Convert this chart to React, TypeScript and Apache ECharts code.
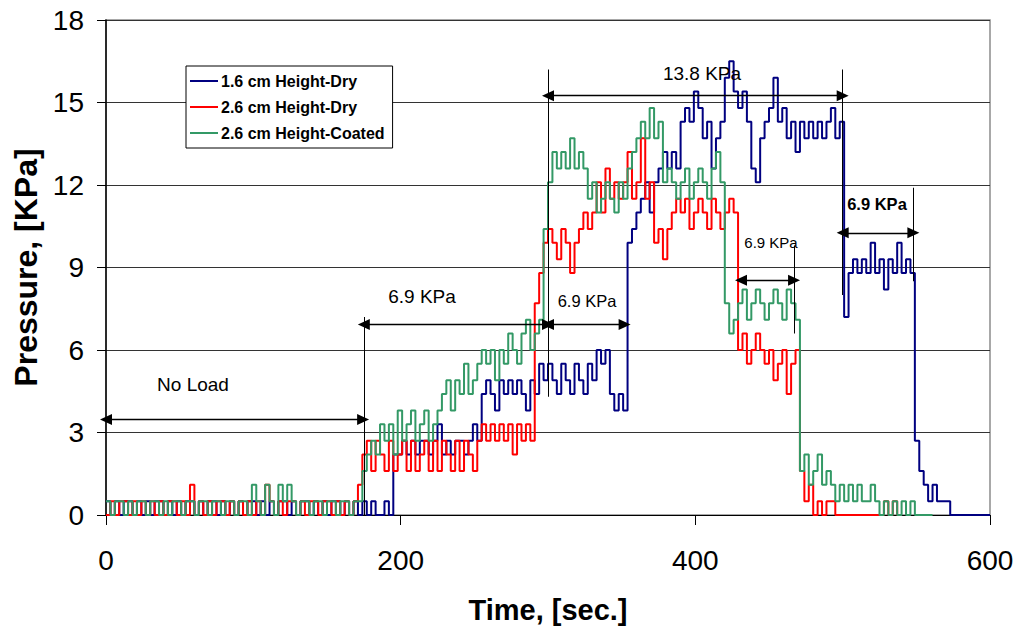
import React, { useEffect, useRef } from "react";
import * as echarts from "echarts";

// Sampling interval of the recorded data, seconds
const SAMPLE_STEP = 3;

const seriesNames = ["1.6 cm Height-Dry", "2.6 cm Height-Dry", "2.6 cm Height-Coated"];
const seriesColors = ["#000080", "#FF0000", "#339966"];

// Pressure [KPa] sampled every 3 s, starting at t = 0
const blueValues = [
  0.5, 0, 0.5, 0, 0.5, 0.5, 0, 0.5, 0, 0.5,
  0, 0.5, 0.5, 0, 0.5, 0, 0.5, 0, 0.5, 0.5,
  0, 0.5, 0, 0.5, 0.5, 0, 0.5, 0, 0.5, 0,
  0.5, 0, 0.5, 0.5, 0, 0.5, 0, 0.5, 0, 0.5,
  0.5, 0, 0.5, 0, 0.5, 0.5, 0, 0.5, 0, 0.5,
  0, 0.5, 0.5, 0, 0.5, 0, 0.5, 0, 0.5, 0,
  0.5, 0, 0, 0.5, 0, 2.2, 2.2, 2.7, 2.2, 2.7,
  2.2, 2.7, 2.7, 2.2, 2.7, 3.3, 2.2, 2.7, 2.2, 2.7,
  2.7, 2.2, 2.7, 3.3, 2.7, 4.4, 4.9, 4.4, 3.8, 4.9,
  4.4, 4.9, 4.4, 4.9, 4.4, 3.8, 4.9, 4.4, 5.5, 4.9,
  5.5, 4.9, 4.4, 5.5, 4.9, 4.4, 5.5, 4.9, 4.4, 5.5,
  4.9, 6.0, 5.5, 6.0, 4.4, 3.8, 4.4, 3.8, 9.9, 10.4,
  11.0, 11.5, 12.1, 11.0, 12.1, 12.6, 13.2, 12.6, 13.2, 12.6,
  14.3, 14.8, 14.3, 15.4, 14.8, 13.7, 14.3, 12.6, 13.7, 14.3,
  15.9, 16.5, 15.4, 14.8, 15.4, 14.3, 12.6, 12.1, 13.7, 14.3,
  14.8, 15.9, 14.3, 14.8, 13.7, 14.3, 13.2, 14.3, 13.7, 14.3,
  13.7, 14.3, 13.7, 14.3, 14.8, 13.7, 14.3, 7.2, 8.8, 9.3,
  8.8, 9.3, 8.8, 9.9, 8.8, 9.3, 8.2, 9.3, 8.8, 9.9,
  8.8, 9.3, 8.8, 2.7, 1.6, 1.1, 0.5, 1.1, 0.5, 0.5,
  0.5, 0, 0, 0, 0, 0, 0, 0, 0, 0,
  0,
];

const redValues = [
  0, 0.5, 0, 0.5, 0.5, 0, 0.5, 0, 0.5, 0,
  0.5, 0, 0.5, 0, 0.5, 0.5, 0, 0.5, 0, 1.1,
  0, 0.5, 0, 0.5, 0, 0.5, 0.5, 0, 0.5, 0,
  0.5, 0, 0.5, 0, 0.5, 0, 1.1, 0.5, 0, 0.5,
  0, 0.5, 0.5, 0, 0.5, 0, 0.5, 0.5, 0, 0.5,
  0.5, 0, 0.5, 0, 0.5, 0, 0.5, 1.1, 2.2, 2.7,
  1.6, 2.7, 2.2, 1.6, 2.7, 1.6, 2.2, 2.7, 1.6, 2.7,
  1.6, 2.2, 2.7, 1.6, 2.7, 1.6, 2.7, 2.2, 1.6, 2.7,
  1.6, 2.7, 2.2, 1.6, 2.7, 3.3, 2.7, 3.3, 2.7, 3.3,
  2.7, 3.3, 2.2, 3.3, 2.7, 3.3, 2.7, 7.7, 8.8, 9.9,
  10.4, 9.9, 9.3, 10.4, 9.9, 8.8, 9.9, 10.4, 11.0, 10.4,
  11.0, 12.1, 11.0, 12.6, 11.5, 12.1, 11.5, 12.1, 13.2, 11.5,
  12.1, 13.7, 11.5, 12.1, 9.9, 10.4, 9.3, 10.4, 11.0, 11.5,
  11.0, 11.5, 10.4, 11.0, 11.5, 11.0, 10.4, 11.5, 11.0, 10.4,
  11.0, 11.5, 11.0, 6.0, 6.6, 5.5, 6.0, 6.6, 6.0, 5.5,
  6.0, 4.9, 5.5, 6.0, 4.4, 5.5, 6.0, 1.6, 0.5, 1.1,
  0, 0.5, 0, 0.5, 0.5, 0, 0, 0, 0, 0,
  0, 0, 0, 0, 0, 0, 0.5, 0, 0.5, 0,
  0,
];

const greenValues = [
  0.5, 0, 0.5, 0.5, 0, 0.5, 0, 0.5, 0.5, 0,
  0.5, 0.5, 0, 0.5, 0, 0.5, 0.5, 0, 0.5, 0.5,
  0, 0.5, 0.5, 0, 0.5, 0.5, 0, 0.5, 0.5, 0,
  0.5, 0.5, 0, 1.1, 0.5, 0, 1.1, 0.5, 0, 1.1,
  0.5, 1.1, 0.5, 0, 0.5, 0.5, 0, 0.5, 0.5, 0,
  0.5, 0.5, 0, 0.5, 0.5, 0, 0.5, 0.5, 1.6, 2.2,
  2.7, 2.2, 3.3, 2.7, 3.3, 2.2, 3.8, 2.7, 3.3, 3.8,
  2.7, 3.3, 3.8, 2.7, 3.3, 3.8, 4.4, 4.9, 3.8, 4.9,
  4.4, 5.5, 4.4, 4.9, 5.5, 6.0, 5.5, 6.0, 4.9, 6.0,
  5.5, 6.6, 6.0, 5.5, 6.6, 7.1, 6.0, 6.6, 7.1, 10.4,
  12.1, 13.2, 12.6, 13.2, 12.6, 13.7, 12.6, 13.2, 12.6, 11.5,
  12.1, 11.0, 11.5, 12.1, 11.5, 11.0, 12.1, 11.5, 12.6, 13.2,
  13.7, 14.3, 13.7, 14.8, 13.7, 14.3, 12.1, 12.6, 12.1, 11.5,
  12.1, 12.6, 11.5, 12.1, 12.6, 12.1, 11.5, 12.6, 13.2, 12.1,
  7.7, 6.6, 7.1, 7.7, 8.2, 7.1, 7.7, 8.2, 7.7, 7.1,
  7.7, 8.2, 7.7, 7.1, 8.2, 7.7, 7.1, 1.6, 2.2, 1.1,
  1.6, 2.2, 1.1, 1.6, 1.1, 0.5, 1.1, 0.5, 1.1, 0.5,
  1.1, 0.5, 0.5, 1.1, 0.5, 0, 0.5, 0, 0.5, 0,
  0.5, 0, 0.5, 0, 0, 0, 0, 0,
];

const xTicks = [0, 200, 400, 600];
const yTicks = [0, 3, 6, 9, 12, 15, 18];

// Annotation arrows: [x1, x2, y] in data units (double-headed)
const arrows = [
  [0, 174.5, 3.47],
  [175, 300, 6.93],
  [300, 352, 6.93],
  [300, 500, 15.25],
  [500, 548, 10.26],
  [431, 467, 8.54],
];
// Vertical marker lines: [x, yTop, yBottom]
const markers = [
  [175, 7.2, 0],
  [300, 16.2, 4.3],
  [500, 16.2, 8.0],
  [548, 11.9, 8.5],
  [467, 9.8, 6.6],
];
const annotationTexts = ["No Load", "6.9 KPa", "6.9 KPa", "13.8 KPa", "6.9 KPa", "6.9 KPa"];

const FONT = "'Liberation Sans', Arial, Helvetica, sans-serif";

export default function App() {
  const ref = useRef<HTMLDivElement>(null);

  useEffect(() => {
    if (!ref.current) return;
    const chart = echarts.init(ref.current, undefined, { renderer: "svg" });
    const allValues = [blueValues, redValues, greenValues];

    const dataSeries = allValues.map((vals, k) => ({
      name: seriesNames[k],
      type: "line",
      step: "end",
      showSymbol: false,
      symbol: "none",
      silent: true,
      lineStyle: { color: seriesColors[k], width: 2 },
      itemStyle: { color: seriesColors[k] },
      data: vals.map((v, i) => [i * SAMPLE_STEP, v]),
      z: 2 + k,
    }));

    const arrowSeries = {
      type: "line",
      data: [],
      silent: true,
      z: 10,
      markLine: {
        silent: true,
        animation: false,
        symbol: ["triangle", "triangle"],
        symbolSize: [11, 12],
        label: { show: false },
        lineStyle: { color: "#000", width: 1.3, type: "solid" },
        emphasis: { disabled: true },
        data: arrows.map(([x1, x2, y]) => [
          { coord: [x1, y] },
          { coord: [x2, y] },
        ]),
      },
    };

    const markerSeries = {
      type: "line",
      data: [],
      silent: true,
      z: 10,
      markLine: {
        silent: true,
        animation: false,
        symbol: ["none", "none"],
        label: { show: false },
        lineStyle: { color: "#000", width: 1, type: "solid" },
        emphasis: { disabled: true },
        data: markers.map(([x, y1, y2]) => [
          { coord: [x, y1] },
          { coord: [x, y2] },
        ]),
      },
    };

    const textSpec = [
      { x: 193, y: 384, size: 19, weight: "normal" },
      { x: 422, y: 296, size: 19, weight: "normal" },
      { x: 587, y: 301, size: 16.5, weight: "normal" },
      { x: 702, y: 73, size: 19, weight: "normal" },
      { x: 877, y: 204, size: 16.5, weight: "bold" },
      { x: 771, y: 242, size: 15, weight: "normal" },
    ];

    chart.setOption({
      animation: false,
      backgroundColor: "#fff",
      grid: {
        left: 106,
        right: 28,
        top: 20,
        bottom: 122,
        show: true,
        borderColor: "#8c8c8c",
        borderWidth: 1.5,
      },
      legend: {
        data: seriesNames,
        orient: "vertical",
        left: 186,
        top: 66,
        backgroundColor: "#fff",
        borderColor: "#000",
        borderWidth: 1,
        borderRadius: 0,
        padding: [7, 8, 7, 4],
        itemGap: 10,
        itemWidth: 28,
        itemHeight: 2,
        icon: "rect",
        selectedMode: false,
        textStyle: { fontFamily: FONT, fontSize: 16, fontWeight: "bold", color: "#000", padding: [0, 0, 0, -2] },
      },
      xAxis: {
        type: "value",
        min: xTicks[0],
        max: xTicks[xTicks.length - 1],
        interval: xTicks[1] - xTicks[0],
        name: "Time, [sec.]",
        nameLocation: "middle",
        nameGap: 80,
        nameTextStyle: { fontFamily: FONT, fontSize: 29, fontWeight: "bold", color: "#000" },
        axisLine: { show: true, lineStyle: { color: "#000", width: 1.2 } },
        axisTick: { show: true, inside: false, length: 10, lineStyle: { color: "#000" } },
        axisLabel: { fontFamily: FONT, fontSize: 28, color: "#000", margin: 31 },
        splitLine: { show: false },
      },
      yAxis: {
        type: "value",
        min: yTicks[0],
        max: yTicks[yTicks.length - 1],
        interval: yTicks[1] - yTicks[0],
        name: "Pressure, [KPa]",
        nameLocation: "middle",
        nameGap: 62,
        nameTextStyle: { fontFamily: FONT, fontSize: 32, fontWeight: "bold", color: "#000" },
        axisLine: { show: true, lineStyle: { color: "#000", width: 1.5 } },
        axisTick: { show: true, inside: false, length: 9, lineStyle: { color: "#000" } },
        axisLabel: { fontFamily: FONT, fontSize: 28, color: "#000", margin: 22 },
        splitLine: { show: true, lineStyle: { color: "#333", width: 1 } },
      },
      series: [...dataSeries, arrowSeries, markerSeries],
      graphic: annotationTexts.map((t, i) => ({
        type: "text",
        x: textSpec[i].x,
        y: textSpec[i].y,
        z: 20,
        silent: true,
        style: {
          text: t,
          fill: "#000",
          font: `${textSpec[i].weight} ${textSpec[i].size}px ${FONT}`,
          textAlign: "center",
          textVerticalAlign: "middle",
          align: "center",
          verticalAlign: "middle",
        },
      })),
    });

    return () => chart.dispose();
  }, []);

  return (
    <div
      ref={ref}
      style={{ position: "absolute", left: 0, top: 0, width: 1018, height: 637 }}
    />
  );
}
